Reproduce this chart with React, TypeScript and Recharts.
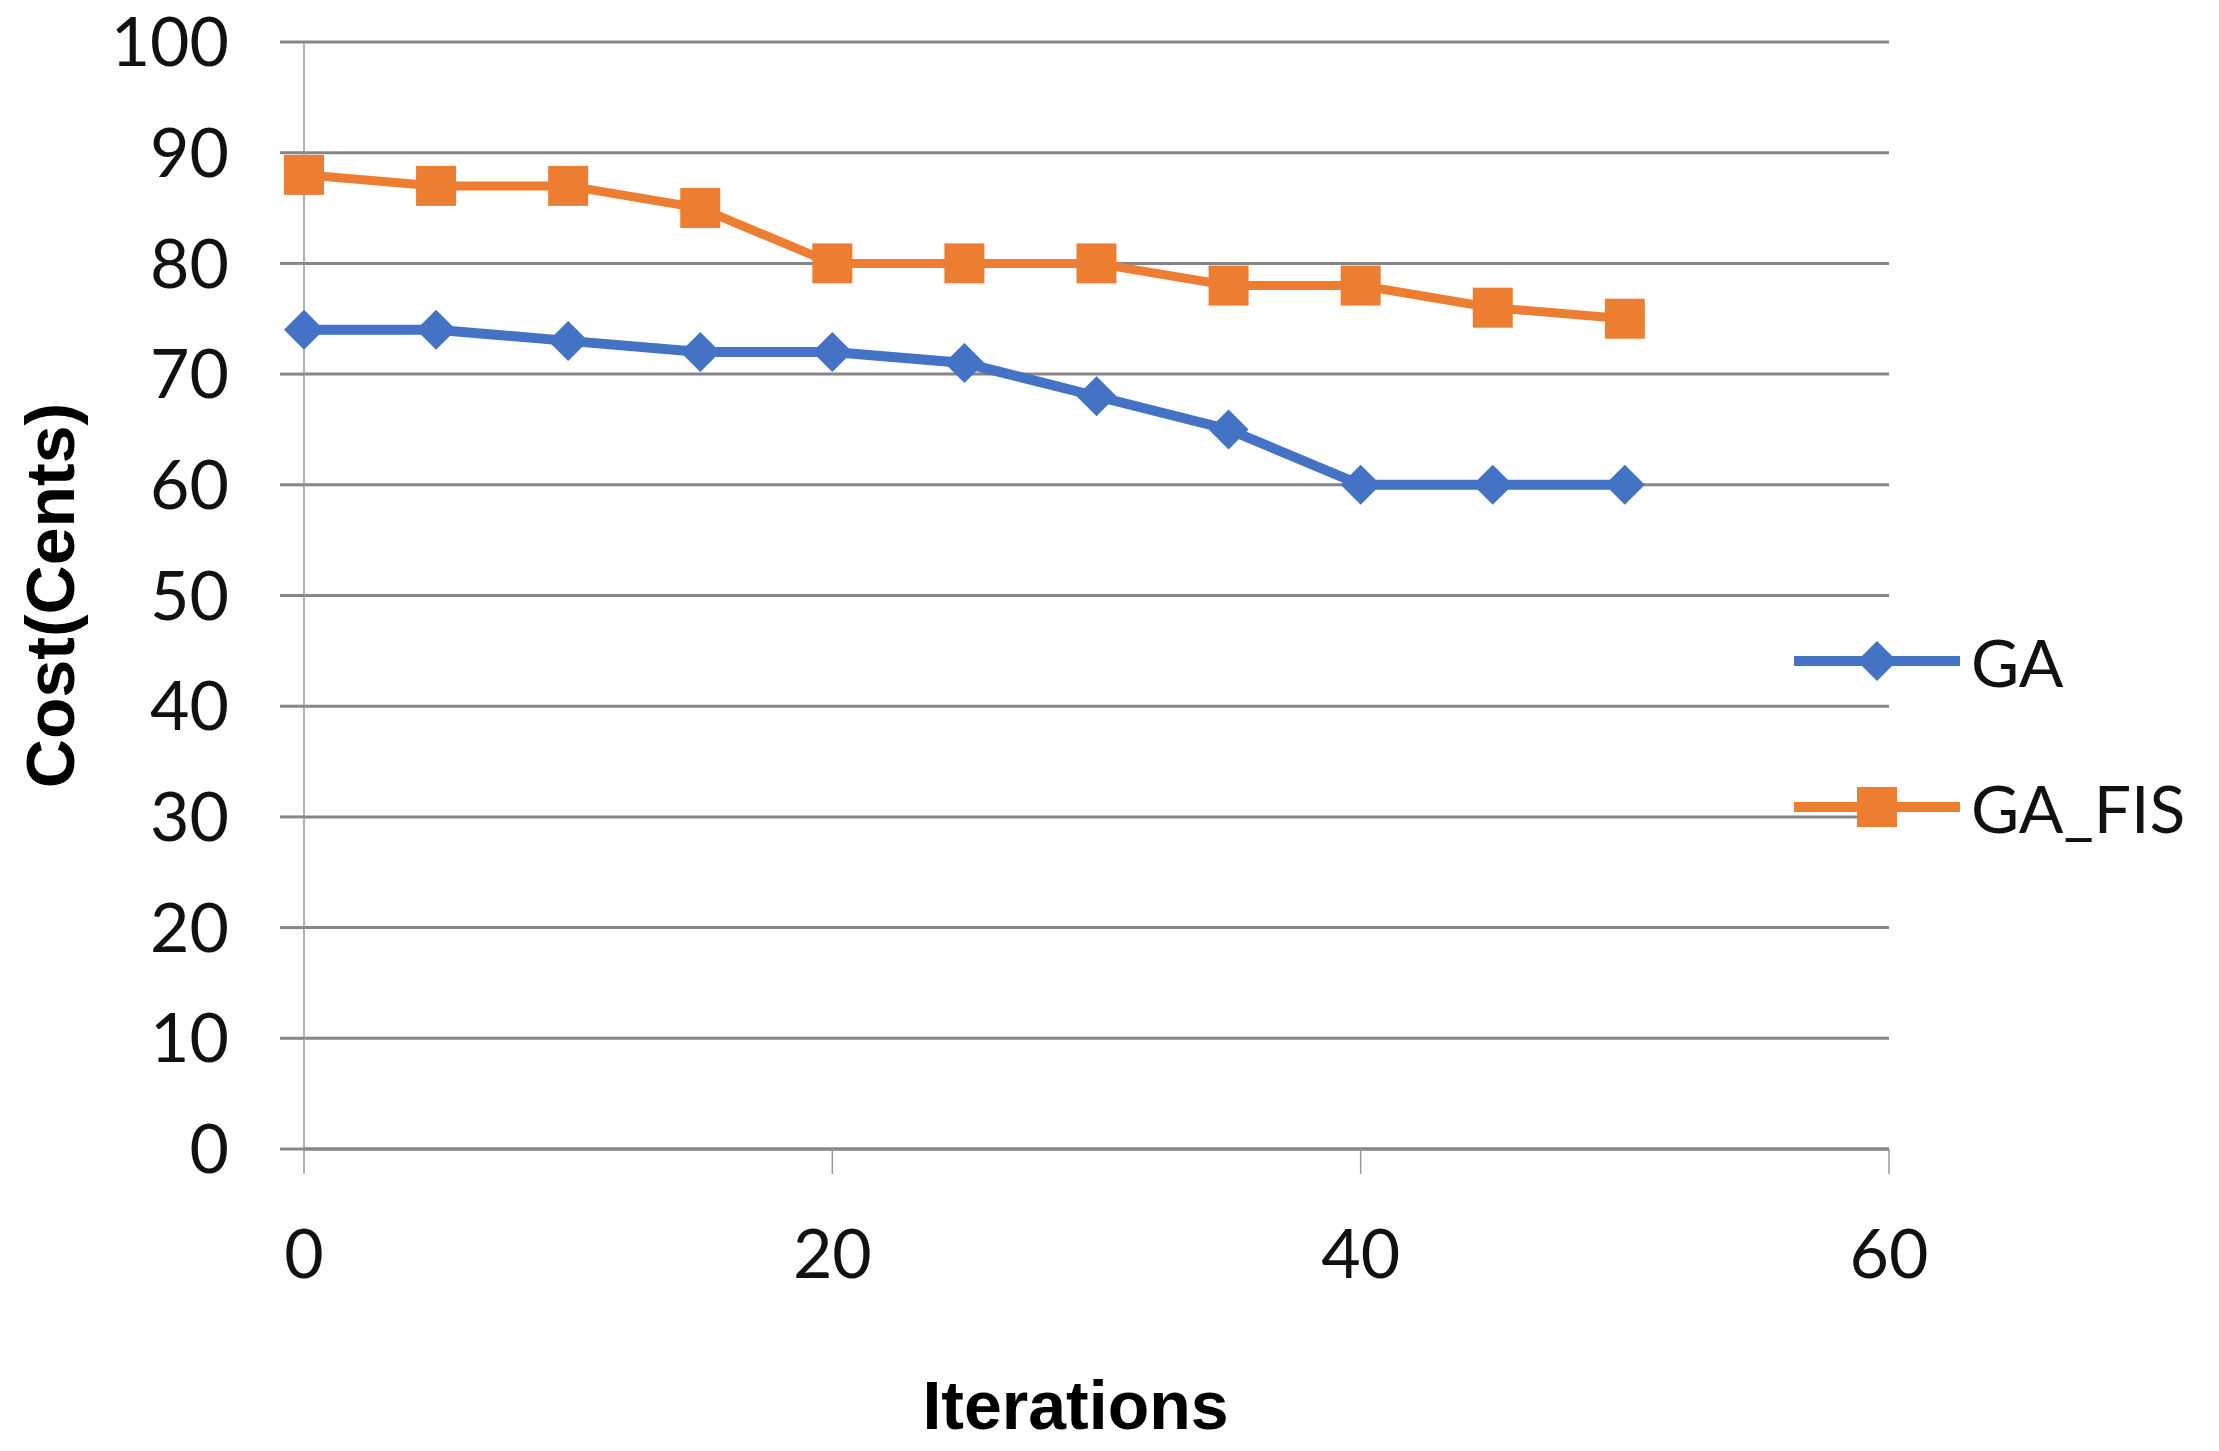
import { LineChart, Line, XAxis, YAxis, CartesianGrid, Legend } from "recharts";

const ITERATIONS = [0, 5, 10, 15, 20, 25, 30, 35, 40, 45, 50];
const GA = [74, 74, 73, 72, 72, 71, 68, 65, 60, 60, 60];
const GA_FIS = [88, 87, 87, 85, 80, 80, 80, 78, 78, 76, 75];
const X_TICKS = [0, 20, 40, 60];
const Y_TICKS = [0, 10, 20, 30, 40, 50, 60, 70, 80, 90, 100];

const COLORS = { ga: "#4472C4", gaFis: "#ED7D31", grid: "#868686" };
const TICK_FONT = "Lato, 'Open Sans', sans-serif";
const TITLE_FONT = "'Liberation Sans', Arial, sans-serif";

const data = ITERATIONS.map((it, i) => ({ iter: it, ga: GA[i], gaFis: GA_FIS[i] }));

const Diamond = (props: any) => {
  const { cx, cy, index } = props;
  const r = 20;
  return (
    <path
      key={`d-${index}`}
      d={`M${cx},${cy - r}L${cx + r},${cy}L${cx},${cy + r}L${cx - r},${cy}Z`}
      fill={COLORS.ga}
    />
  );
};

const Square = (props: any) => {
  const { cx, cy, index } = props;
  const s = 20;
  return <rect key={`s-${index}`} x={cx - s} y={cy - s} width={s * 2} height={s * 2} fill={COLORS.gaFis} />;
};

function LegendRow({ label, color, marker }: { label: string; color: string; marker: "diamond" | "square" }) {
  return (
    <div style={{ display: "flex", alignItems: "center", height: 146 }}>
      <svg width={166} height={50}>
        <line x1={0} y1={25} x2={166} y2={25} stroke={color} strokeWidth={10} />
        {marker === "diamond" ? (
          <path d="M83,5L103,25L83,45L63,25Z" fill={color} />
        ) : (
          <rect x={63} y={5} width={40} height={40} fill={color} />
        )}
      </svg>
      <span style={{ marginLeft: 11, fontFamily: TICK_FONT, fontSize: 66, color: "#111" }}>{label}</span>
    </div>
  );
}

export default function App() {
  return (
    <div style={{ position: "absolute", left: 0, top: 0, width: 2219, height: 1451, background: "#fff" }}>
      <LineChart width={2219} height={1451} data={data} margin={{ top: 42, right: 330, left: 0, bottom: 0 }}>
        <CartesianGrid vertical={false} stroke={COLORS.grid} strokeWidth={3} />
        <XAxis
          dataKey="iter"
          type="number"
          domain={[0, 60]}
          ticks={X_TICKS}
          height={302}
          tickSize={25}
          tickMargin={56}
          axisLine={{ stroke: COLORS.grid, strokeWidth: 3 }}
          tickLine={{ stroke: "#999", strokeWidth: 1.5 }}
          tick={{ fontSize: 68, fill: "#111", fontFamily: TICK_FONT }}
          label={{
            value: "Iterations",
            position: "insideBottom",
            offset: 22,
            dx: -21,
            style: { fontSize: 68, fontWeight: 700, fill: "#000", fontFamily: TITLE_FONT },
          }}
        />
        <YAxis
          type="number"
          domain={[0, 100]}
          ticks={Y_TICKS}
          width={304}
          tickSize={24}
          tickMargin={51}
          axisLine={{ stroke: "#999", strokeWidth: 1.5 }}
          tickLine={{ stroke: COLORS.grid, strokeWidth: 3 }}
          tick={{ fontSize: 68, fill: "#111", fontFamily: TICK_FONT }}
          label={{
            value: "Cost(Cents)",
            angle: -90,
            position: "insideLeft",
            offset: 50,
            style: { fontSize: 68, fontWeight: 700, fill: "#000", fontFamily: TITLE_FONT, textAnchor: "middle" },
          }}
        />
        <Legend
          layout="horizontal"
          verticalAlign="middle"
          align="center"
          content={() => (
            <div>
              <LegendRow label="GA" color={COLORS.ga} marker="diamond" />
              <LegendRow label="GA_FIS" color={COLORS.gaFis} marker="square" />
            </div>
          )}
          wrapperStyle={{ position: "absolute", left: 1794, top: 588, width: 420, bottom: "auto" }}
        />
        <Line
          type="linear"
          dataKey="ga"
          name="GA"
          stroke={COLORS.ga}
          strokeWidth={10}
          dot={Diamond}
          activeDot={false}
          isAnimationActive={false}
        />
        <Line
          type="linear"
          dataKey="gaFis"
          name="GA_FIS"
          stroke={COLORS.gaFis}
          strokeWidth={9}
          dot={Square}
          activeDot={false}
          isAnimationActive={false}
        />
      </LineChart>
    </div>
  );
}
